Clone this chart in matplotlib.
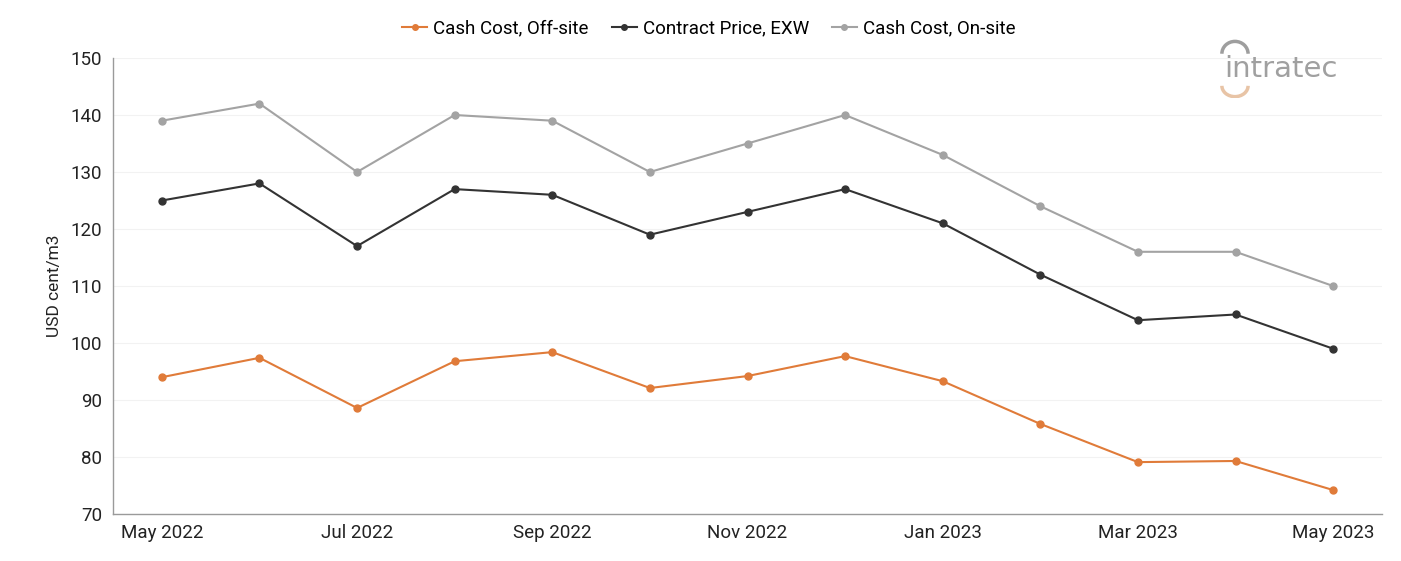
import matplotlib
matplotlib.use("Agg")
import matplotlib.pyplot as plt
from matplotlib.patches import Arc

plt.rcParams['font.family'] = ['Roboto', 'DejaVu Sans']

months = ["May 2022", "Jun 2022", "Jul 2022", "Aug 2022", "Sep 2022", "Oct 2022",
          "Nov 2022", "Dec 2022", "Jan 2023", "Feb 2023", "Mar 2023", "Apr 2023", "May 2023"]
cash_off = [94.0, 97.4, 88.6, 96.8, 98.4, 92.1, 94.2, 97.7, 93.3, 85.8, 79.1, 79.3, 74.2]
contract_exw = [125, 128, 117, 127, 126, 119, 123, 127, 121, 112, 104, 105, 99]
cash_on = [139, 142, 130, 140, 139, 130, 135, 140, 133, 124, 116, 116, 110]
series_names = ["Cash Cost, Off-site", "Contract Price, EXW", "Cash Cost, On-site"]
colors = ["#E07B39", "#333333", "#A3A3A3"]

fig = plt.figure(figsize=(14.01, 5.61), dpi=100)
ax = fig.add_axes([0.0807, 0.0838, 0.9057, 0.8128])

x = list(range(len(months)))
for vals, name, c in zip([cash_off, contract_exw, cash_on], series_names, colors):
    ax.plot(x, vals, color=c, lw=1.5, marker='o', ms=5, label=name)

ax.set_xlim(-0.5, len(months) - 0.5)
ax.set_ylim(70, 150)
ax.set_yticks(range(70, 151, 10))
ax.set_xticks(x[::2])
ax.set_xticklabels(months[::2])
ax.grid(axis='y', color='#F2F2F2', lw=0.8)
ax.set_axisbelow(True)
for s in ['top', 'right']:
    ax.spines[s].set_visible(False)
for s in ['left', 'bottom']:
    ax.spines[s].set_color('#9A9A9A')
    ax.spines[s].set_linewidth(1.0)
ax.tick_params(axis='both', length=0, labelsize=13.5, colors='#222222')
ax.tick_params(axis='x', pad=7)
ax.tick_params(axis='y', pad=8)
ax.set_ylabel("USD cent/m3", fontsize=12.5, color='#222222', labelpad=6)

fig.legend(loc='center', bbox_to_anchor=(0.506, 0.949), ncol=3, frameon=False,
           fontsize=13.5, handlelength=1.33, handletextpad=0.32, columnspacing=1.22,
           markerscale=0.8)

# logo
fig.text(0.8735, 0.877, "intratec", fontsize=21, color='#A0A0A0', ha='left', va='center',
         family=['DejaVu Sans'])
lax = fig.add_axes([0.8705, 0.825, 0.022, 0.11])
lax.set_xlim(0, 1); lax.set_ylim(0, 1); lax.axis('off')
lax.add_patch(Arc((0.5, 0.72), 0.85, 0.4, theta1=0, theta2=180, color='#9E9E9E', lw=2.5))
lax.add_patch(Arc((0.5, 0.2), 0.85, 0.35, theta1=180, theta2=360, color='#E8C4A6', lw=2.5))

fig.savefig("out.png", dpi=100)
